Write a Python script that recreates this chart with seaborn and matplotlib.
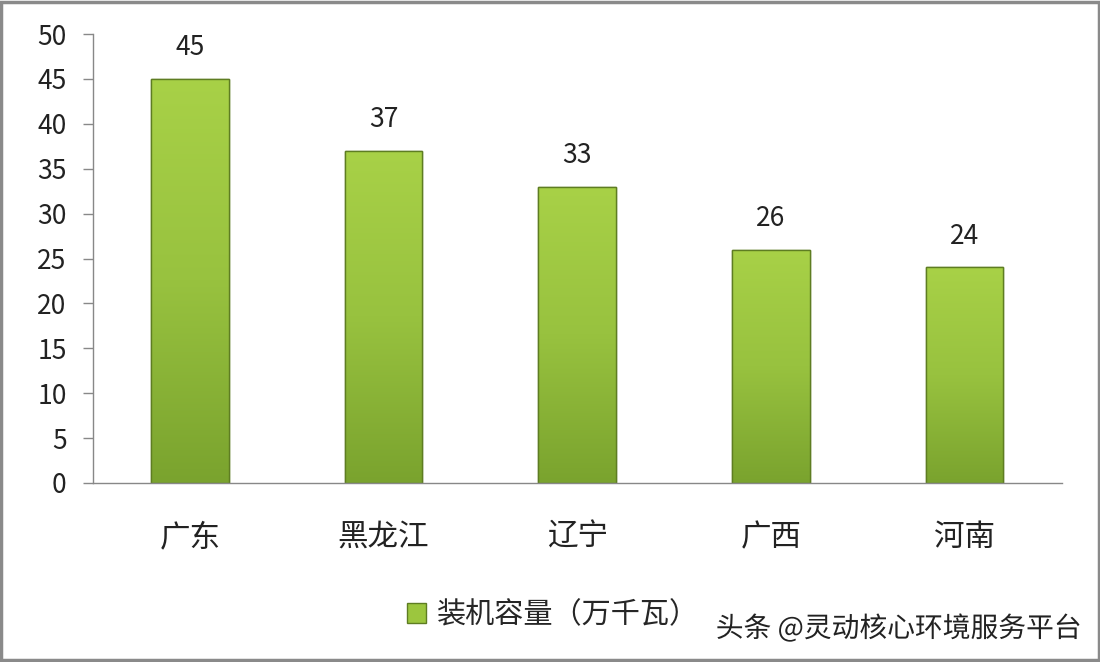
import numpy as np
import pandas as pd
import matplotlib
matplotlib.use('Agg')
import matplotlib.pyplot as plt
import matplotlib.patheffects as pe
from matplotlib.patches import Rectangle
import seaborn as sns

provinces = ['广东', '黑龙江', '辽宁', '广西', '河南']
capacity = [45, 37, 33, 26, 24]
series_name = '装机容量（万千瓦）'
yticks = [0, 5, 10, 15, 20, 25, 30, 35, 40, 45, 50]

sns.set_style('white')
plt.rcParams['font.family'] = ['Noto Sans CJK SC', 'DejaVu Sans']

df = pd.DataFrame({'province': provinces, 'capacity': capacity})

fig = plt.figure(figsize=(11, 6.62), dpi=100)
ax = fig.add_axes([0.0845, 0.2704, 0.8805, 0.6782])

sns.barplot(data=df, x='province', y='capacity', color='#8db83a', width=0.4,
            edgecolor='#5e7d22', linewidth=1.0, ax=ax)

# gradient fill on each bar: light at top, darker towards the base
grad = np.linspace(0, 1, 256).reshape(-1, 1)
cmap = matplotlib.colors.LinearSegmentedColormap.from_list('g', ['#a8d147', '#98c23f', '#7aa32e'])
for bar in ax.patches:
    x0, y0 = bar.get_x(), bar.get_y()
    w, h = bar.get_width(), bar.get_height()
    im = ax.imshow(grad, cmap=cmap, aspect='auto', extent=[x0, x0 + w, y0, y0 + h],
                   zorder=bar.get_zorder() + 0.1)
    im.set_clip_path(bar)
    ax.add_patch(Rectangle((x0, y0), w, h, fill=False, edgecolor='#5e7d22',
                           linewidth=1.0, zorder=bar.get_zorder() + 0.2))

for i, v in enumerate(capacity):
    ax.text(i, v + 2.0, str(v), ha='center', va='bottom', fontsize=19, color='#222222')

ax.set_ylim(0, 50)
ax.set_xlim(-0.5, len(provinces) - 0.5)
ax.set_yticks(yticks)
ax.set_yticklabels([str(t) for t in yticks], fontsize=19, color='#222222')
ax.set_xticks(range(len(provinces)))
ax.set_xticklabels(provinces, fontsize=22, color='#222222')
ax.set_xticks(np.arange(-0.5, len(provinces)), minor=True)
ax.tick_params(axis='x', which='major', length=0, pad=28)
ax.tick_params(axis='x', which='minor', length=7, width=1, color='#888888', direction='out')
ax.tick_params(axis='y', length=7, width=1, color='#888888', direction='out', left=True, pad=12)
ax.set_xlabel('')
ax.set_ylabel('')
for side in ['top', 'right']:
    ax.spines[side].set_visible(False)
for side in ['left', 'bottom']:
    ax.spines[side].set_color('#888888')
    ax.spines[side].set_linewidth(1)

handle = Rectangle((0, 0), 1, 1, facecolor='#9cc63e', edgecolor='#5e7d22', linewidth=1)
ax.legend([handle], [series_name], loc='upper left', bbox_to_anchor=(0.312, -0.235),
          frameon=False, fontsize=21, handlelength=0.65, handleheight=0.65,
          handletextpad=0.4, borderaxespad=0)

fig.text(0.983, 0.05, '头条 @灵动核心环境服务平台', ha='right', va='center', fontsize=20,
         color='#222222', path_effects=[pe.withStroke(linewidth=3, foreground='white')])

# thin grey frame around the whole picture
fig.add_artist(Rectangle((0.001, 0.003), 0.998, 0.994, transform=fig.transFigure, fill=False,
                         edgecolor='#8a8a8a', linewidth=2.5))

fig.savefig('out.png', dpi=100)
